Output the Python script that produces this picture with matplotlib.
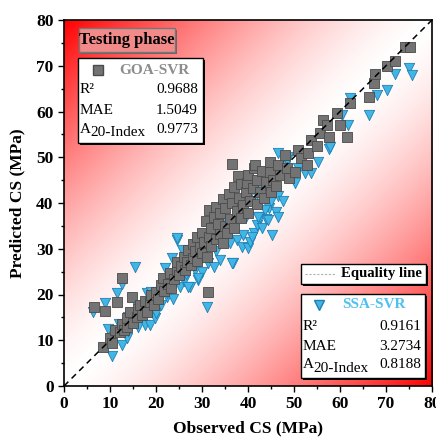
import numpy as np
import matplotlib
matplotlib.use("Agg")
import matplotlib.pyplot as plt
from matplotlib.patches import Rectangle
from matplotlib.lines import Line2D

plt.rcParams['font.family'] = ['Liberation Serif', 'DejaVu Serif']

# GOA-SVR (observed, predicted)
goa_obs = [6.5, 8.9, 11.5, 12.5, 14.7, 31.2,
           8.5, 10, 10.5, 11, 12.2, 12.5, 13, 13.6, 13.8, 14.3, 15, 15.8, 16, 16.5,
           17, 17.5, 18, 18.7, 19, 19.5, 20, 20.5, 21, 21.6, 21.8, 22.5, 23, 23.3,
           24, 24.5, 24.5, 25, 25.5, 26, 26.2, 26.8, 27, 27.5, 28, 28, 28.5, 29, 29,
           29.5, 30, 30, 30.5, 30.8, 31, 31.5, 31.5, 32, 32, 32.5, 33, 33, 33.5, 34,
           34, 34.5, 34.5, 35, 35, 35.5, 35.8, 36, 36.5, 36.5, 37, 37, 37.5, 37.8,
           38, 38.5, 38.5, 39, 39.5, 39.7, 40, 40, 40.5, 41, 41.2, 41.5, 42, 42,
           42.5, 43, 43.5, 44, 44.8, 44.8, 45, 45.5, 46, 46.6, 47, 48, 48.4, 49,
           50.2, 50.9, 51.5, 52.8, 53.1, 53.8, 55, 55.7, 56.4, 57.1, 57.5, 59.3, 60,
           61.5, 62.2, 66.2, 67.4, 67.6, 70.2, 72, 74.1, 75.2]
goa_pred = [17.3, 16.5, 18.4, 23.5, 19.5, 20.6,
            8.6, 10.4, 9.5, 12.2, 11.9, 13.5, 12.2, 13, 14.8, 16.2, 13.8, 15.1, 16.8, 17.7,
            15.5, 18.6, 16.2, 18.4, 19.8, 17.6, 20.6, 19, 22, 23.5, 20.8, 22.2, 24.6, 21.5,
            23.4, 25.4, 27.2, 24.2, 26.2, 28.3, 25.3, 27, 29.8, 26.4, 28, 31, 29.5, 27.4, 32.5,
            30.4, 29, 33.5, 31.5, 36, 28.2, 32.5, 38.5, 30.5, 34.5, 37, 32.2, 39.2, 35.5, 33.2,
            37.8, 31.2, 40.8, 35, 38.8, 33.5, 42, 36.5, 40, 48.5, 34.5, 43.5, 38.2, 46,
            41, 36.8, 44.2, 39.5, 42.5, 44.3, 37.8, 46.2, 40.5, 43.2, 47.6, 48.3, 39.8, 45,
            42.5, 47, 41, 44.5, 49, 46.8, 42.5, 45, 43.8, 48.3, 46.2, 50.5, 47.6, 45.5,
            46.8, 51.6, 49.8, 48.3, 50.9, 53.8, 52.5, 55.2, 58.1, 57, 54.5, 59.6, 57,
            54.5, 61.8, 63.2, 66.2, 68.3, 70, 71.1, 74.2, 74.2]

# SSA-SVR (observed, predicted)
ssa_obs = [6.4, 8.9, 11.5, 12.5, 15.4, 9.6, 10.4, 12.5, 13.6, 11, 12, 14, 15, 16,
           17.6, 18.7, 19.8, 17, 18, 19, 20, 21, 22.3, 22.3, 23.8, 22, 21, 24, 25.2,
           26, 23.4, 24.5, 25.6, 26.5, 27.4, 28.5, 29.2, 29.9, 28, 30, 31.4, 32.5,
           31.7, 31.7, 33, 33.9, 34.6, 35.4, 36.1, 36.8, 37.5, 38.6, 39, 40.1, 40.4,
           41.2, 41.9, 42.5, 43, 44, 44.5, 45, 46, 46.5, 47.5, 46.6, 48.8, 50.2, 50.9,
           52.4, 53.8, 55.3, 57.5, 60.4, 61.8, 62.2, 66.2, 68, 70.2, 72, 74.9, 75.6,
           30, 33, 35, 37, 38, 40, 42, 44, 36, 34, 27, 29, 20, 19, 14, 16, 25, 26,
           45, 39.5, 42.7, 48, 57.8, 48.4, 45.2, 46.6, 44.4, 42.2, 43.7, 40.8, 36.5,
           24.5, 31, 29.2, 27]
ssa_pred = [16.2, 18.2, 20.3, 22.4, 26.1, 12.4, 6.6, 9, 10.4, 11.5, 13.5, 12, 14.2, 13,
            13.3, 13.3, 14.8, 16.5, 20.3, 17, 16, 17.8, 19.5, 20.3, 19.1, 25.7, 21, 22.5, 21.7,
            23, 27.9, 31.9, 29.7, 24.5, 21.7, 25.4, 23.2, 25, 27, 28, 26.8, 26.1,
            31.9, 35.9, 29.5, 27.5, 31.5, 34.1, 31.2, 26.8, 31.9, 30.4, 33, 30.1, 31.5,
            33.4, 35.2, 37, 34.5, 36.5, 39, 40.5, 38, 41.5, 40.5, 50.9, 50.1, 44.3, 47.6,
            46.5, 46.5, 49, 51.9, 59.2, 57, 62.9, 59.2, 63.6, 64.7, 68.3, 69.4, 68,
            30, 33, 36, 36, 39, 41, 42, 44, 34, 35, 28.5, 29, 19, 20.5, 15, 17, 26, 27.5,
            45, 37, 44, 48, 52.3, 49.4, 33, 37, 36.3, 37, 38.5, 32.6, 26.8,
            32.3, 17.3, 23.5, 21.7]

goa_stats = ["0.9688", "1.5049", "0.9773"]
ssa_stats = ["0.9161", "3.2734", "0.8188"]
stat_names = ["R²", "MAE", "A"]

W, H = 436, 438
fig = plt.figure(figsize=(W / 100, H / 100), dpi=100)
ax = fig.add_axes([64 / W, 1 - 386 / H, 368 / W, 366 / H])

# diagonal red-white gradient background
g = np.linspace(0, 80, 400)
gx, gy = np.meshgrid(g, g)
t = (np.abs(gx - gy) / 80) ** 1.45
img = np.dstack([np.ones_like(t), 1 - t, 1 - t])
ax.imshow(img, extent=[0, 80, 0, 80], origin='lower', aspect='auto', zorder=0)

ax.scatter(ssa_obs, ssa_pred, marker='v', s=55, color='#41b6e6', edgecolor='#1f7fb2',
           linewidth=0.6, zorder=2)
ax.scatter(goa_obs, goa_pred, marker='s', s=55, color='#737373', edgecolor='#4a4a4a',
           linewidth=0.6, zorder=3)
ax.plot([0, 80], [0, 80], color='black', linestyle=(0, (4, 3)), linewidth=1.1, zorder=4)

ax.set_xlim(0, 80)
ax.set_ylim(0, 80)
ax.set_xticks(np.arange(0, 81, 10))
ax.set_yticks(np.arange(0, 81, 10))
ax.set_xticks(np.arange(0, 81, 5), minor=True)
ax.set_yticks(np.arange(0, 81, 5), minor=True)
ax.tick_params(which='major', direction='out', length=4, width=1, labelsize=12.5)
ax.tick_params(which='minor', direction='out', length=2.5, width=1)
for lab in ax.get_xticklabels() + ax.get_yticklabels():
    lab.set_fontweight('bold')
for sp in ax.spines.values():
    sp.set_linewidth(1.2)
ax.set_xlabel('Observed CS (MPa)', fontsize=12.5, fontweight='bold', labelpad=6)
ax.set_ylabel('Predicted CS (MPa)', fontsize=12.5, fontweight='bold', labelpad=8)


def fx(x):
    return x / W


def fy(y):
    return 1 - y / H


def box(x0, y0, x1, y1, face='white', edge='black', shadow='black'):
    fig.patches.append(Rectangle((fx(x0 + 2), fy(y1 + 2)), fx(x1 - x0), (y1 - y0) / H,
                                 transform=fig.transFigure, facecolor=shadow,
                                 edgecolor='none', zorder=5))
    fig.patches.append(Rectangle((fx(x0), fy(y1)), fx(x1 - x0), (y1 - y0) / H,
                                 transform=fig.transFigure, facecolor=face,
                                 edgecolor=edge, linewidth=1, zorder=6))


def stat_rows(xl, xr, ys, values):
    for n, v, yy in zip(stat_names, values, ys):
        fig.text(fx(xl), fy(yy), n, fontsize=11, ha='left', va='center', zorder=7)
        if n == "A":
            fig.text(fx(xl + 10.5), fy(yy + 4), "20-Index", fontsize=11, ha='left',
                     va='center', zorder=7)
        fig.text(fx(xr), fy(yy), v, fontsize=11, ha='right', va='center', zorder=7)


# Testing phase label
box(79, 28, 175, 52, face='#f28a8a', edge='#777777', shadow='#666666')
fig.text(fx(127), fy(40), 'Testing phase', fontsize=12, fontweight='bold',
         ha='center', va='center', zorder=7)

# GOA-SVR box
box(78, 58, 203, 143)
fig.lines.append(Line2D([fx(98)], [fy(70)], marker='s', markersize=7, color='#737373',
                        markeredgecolor='#4a4a4a', transform=fig.transFigure, zorder=7))
fig.text(fx(119), fy(70), 'GOA-SVR', fontsize=11, fontweight='bold', color='#8c8c8c',
         ha='left', va='center', zorder=7)
stat_rows(80, 198, [90, 110, 129], goa_stats)

# Equality line box
box(301, 264, 426, 284)
fig.lines.append(Line2D([fx(305), fx(335)], [fy(274), fy(274)], color='#b0b0b0',
                        linestyle=(0, (2, 1.5)), linewidth=0.8,
                        transform=fig.transFigure, zorder=7))
fig.text(fx(341), fy(274), 'Equality line', fontsize=10.6, fontweight='bold',
         ha='left', va='center', zorder=7)

# SSA-SVR box
box(301, 294, 425, 378)
fig.lines.append(Line2D([fx(319)], [fy(305)], marker='v', markersize=7, color='#41b6e6',
                        markeredgecolor='#1f7fb2', transform=fig.transFigure, zorder=7))
fig.text(fx(342), fy(305), 'SSA-SVR', fontsize=11, fontweight='bold', color='#4fc0f0',
         ha='left', va='center', zorder=7)
stat_rows(303, 421, [327, 347, 365], ssa_stats)

fig.savefig('out.png', dpi=100)
